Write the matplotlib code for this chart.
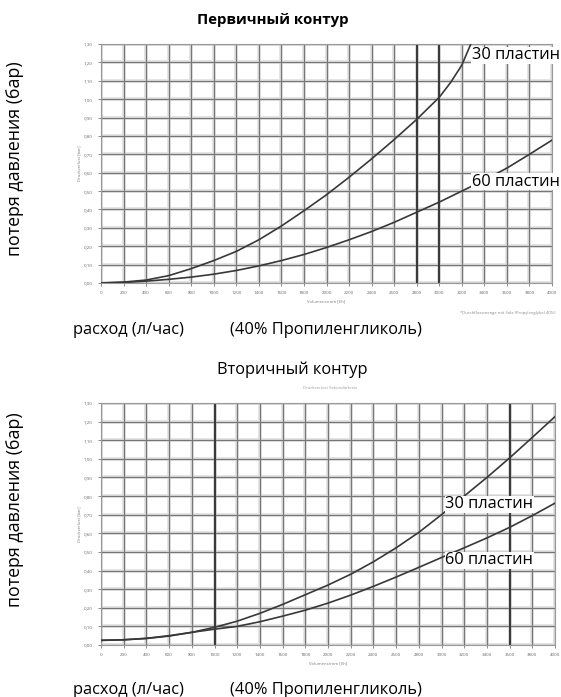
import matplotlib.pyplot as plt

plt.rcParams['font.family'] = ['Open Sans', 'DejaVu Sans']

# расход, л/час
x_top_30 = [0, 200, 400, 600, 800, 1000, 1200, 1400, 1600, 1800, 2000, 2200, 2400,
            2600, 2800, 3000, 3100, 3200, 3280]
y_top_30 = [0.0, 0.005, 0.016, 0.04, 0.078, 0.122, 0.172, 0.235, 0.31, 0.393, 0.48,
            0.575, 0.675, 0.78, 0.89, 1.01, 1.09, 1.185, 1.30]
x_top_60 = [0, 200, 400, 600, 800, 1000, 1200, 1400, 1600, 1800, 2000, 2200, 2400,
            2600, 2800, 3000, 3200, 3400, 3600, 3800, 4000]
y_top_60 = [0.0, 0.003, 0.01, 0.02, 0.032, 0.048, 0.068, 0.093, 0.122, 0.155, 0.193,
            0.235, 0.28, 0.33, 0.385, 0.44, 0.5, 0.56, 0.625, 0.70, 0.777]

x_bot = [0, 200, 400, 600, 800, 1000, 1200, 1400, 1600, 1800, 2000, 2200, 2400,
         2600, 2800, 3000, 3200, 3400, 3600, 3800, 4000]
y_bot_30 = [0.025, 0.028, 0.035, 0.048, 0.068, 0.095, 0.128, 0.17, 0.218, 0.27, 0.322,
            0.38, 0.447, 0.522, 0.605, 0.70, 0.80, 0.90, 1.005, 1.115, 1.227]
y_bot_60 = [0.025, 0.028, 0.036, 0.05, 0.068, 0.085, 0.10, 0.125, 0.155, 0.187, 0.225,
            0.268, 0.315, 0.365, 0.417, 0.47, 0.522, 0.575, 0.632, 0.695, 0.762]

x_ticks = list(range(0, 4001, 200))
y_ticks = [i / 10 for i in range(14)]
y_ticklabels = [f"{v:.2f}".replace('.', ',') for v in y_ticks]

dark_lines_top = [2800, 3000]
dark_lines_bot = [1000, 3600]

fig = plt.figure(figsize=(5.61, 6.97), dpi=100)
W, H = 561, 697


def frac_ax(l, t, r, b):
    return fig.add_axes([l / W, 1 - b / H, (r - l) / W, (b - t) / H])


def style(ax, dark):
    ax.set_xlim(0, 4000)
    ax.set_ylim(0, 1.3)
    ax.set_xticks(x_ticks)
    ax.set_xticklabels([str(v) for v in x_ticks], fontsize=3.2, color='#666')
    ax.set_yticks(y_ticks)
    ax.set_yticklabels(y_ticklabels, fontsize=3.2, color='#666')
    ax.tick_params(length=2, width=0.6, color='#777', pad=4)
    ax.set_axisbelow(True)
    # мягкий "ореол" сетки как на скане
    ax.grid(True, color='#dedede', lw=2.6)
    for v in x_ticks:
        ax.axvline(v, color='#767676', lw=0.85, zorder=1)
    for v in y_ticks:
        ax.axhline(v, color='#767676', lw=0.85, zorder=1)
    for v in dark:
        ax.axvline(v, color='#3a3a3a', lw=1.5, zorder=1)
    for s in ax.spines.values():
        s.set_color('#999')
        s.set_linewidth(0.8)
    ax.set_ylabel("Druckverlust [bar]", fontsize=3, color='#777', labelpad=2)
    ax.set_xlabel("Volumenstrom [l/h]", fontsize=3, color='#777', labelpad=3)


lab_box = dict(facecolor='white', edgecolor='none', pad=0.3)
fs = 11.8

# Первичный контур
ax1 = frac_ax(101, 44, 552, 283)
style(ax1, dark_lines_top)
ax1.plot(x_top_30, y_top_30, color='#383838', lw=1.2, zorder=3)
ax1.plot(x_top_60, y_top_60, color='#383838', lw=1.2, zorder=3)
ax1.text(3290, 1.24, "30 пластин", fontsize=fs, ha='left', va='center', bbox=lab_box, zorder=4)
ax1.text(3290, 0.55, "60 пластин", fontsize=fs, ha='left', va='center', bbox=lab_box, zorder=4)
fig.text(0.99, 1 - 313 / H, "*Durchflussmenge mit Sole (Propylenglykol 40%)",
         fontsize=3, color='#888', ha='right', va='center')

# Вторичный контур
ax2 = frac_ax(101, 403, 555, 645)
style(ax2, dark_lines_bot)
ax2.plot(x_bot, y_bot_30, color='#383838', lw=1.2, zorder=3)
ax2.plot(x_bot, y_bot_60, color='#383838', lw=1.2, zorder=3)
ax2.text(3035, 0.755, "30 пластин", fontsize=fs, ha='left', va='center', bbox=lab_box, zorder=4)
ax2.text(3035, 0.455, "60 пластин", fontsize=fs, ha='left', va='center', bbox=lab_box, zorder=4)
fig.text(330 / W, 1 - 388 / H, "Druckverlust Sekundärkreis", fontsize=3, color='#999',
         ha='center', va='center')

# подписи
fig.text(273 / W, 1 - 20 / H, "Первичный контур", fontsize=10.8, fontweight='bold',
         ha='center', va='center')
fig.text(292 / W, 1 - 370 / H, "Вторичный контур", fontsize=fs, ha='center', va='center')
for yc in (159, 510):
    fig.text(15 / W, 1 - yc / H, "потеря давления (бар)", fontsize=12.8, rotation=90,
             ha='center', va='center')
for yc in (330, 690):
    fig.text(73 / W, 1 - yc / H, "расход (л/час)", fontsize=fs, ha='left', va='center')
    fig.text(230 / W, 1 - yc / H, "(40% Пропиленгликоль)", fontsize=fs, ha='left', va='center')

fig.savefig("out.png", dpi=100)
